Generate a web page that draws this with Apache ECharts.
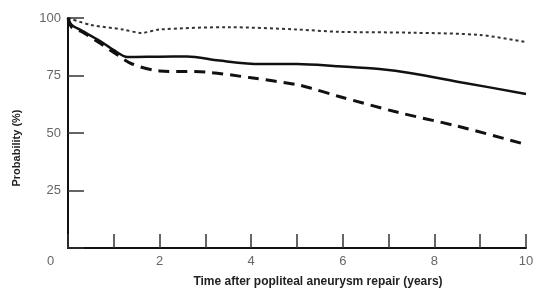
<!DOCTYPE html>
<html>
<head>
<meta charset="utf-8">
<script src="https://cdn.jsdelivr.net/npm/echarts@6/dist/echarts.min.js"></script>
<style>
	html, body { margin: 0; padding: 0; background: #fff; }
	#main { width: 538px; height: 293px; }
</style>
</head>
<body>
<div id="main"></div>
<script>
// time (years) and probability (%)
var solidTime = [0, 0.08, 0.3, 0.7, 1.0, 1.3, 2.0, 2.6, 3.3, 4.2, 5.0, 5.9, 6.8, 7.5, 8.6, 10];
var solidProb = [100, 97, 94.5, 90, 86, 83, 83.2, 83.3, 81.5, 80, 80, 79, 77.8, 76, 72, 67];

var dashTime = [0, 0.08, 0.3, 0.7, 1.0, 1.4, 2.0, 3.0, 4.0, 5.0, 5.3, 5.9, 7.2, 8.5, 10];
var dashProb = [100, 96, 94, 89, 85, 80, 77, 76.5, 74, 71, 69.5, 66, 59, 53, 45];

var dotTime = [0, 0.5, 1.2, 1.6, 2.0, 3.5, 5.0, 5.9, 7.5, 9.0, 10];
var dotProb = [100, 97, 95, 93.5, 95, 96, 95, 94, 93.6, 92.6, 89.5];

var xTicks = [2, 4, 6, 8, 10];
var yTicks = [25, 50, 75, 100];

function pairs(xs, ys) {
	return xs.map(function(x, i) { return [x, ys[i]]; });
}

var myChart = echarts.init(document.getElementById('main'));
var option = {
	animation: false,
	grid: {
		left: 68,
		right: 12,
		top: 18,
		bottom: 44
	},
	xAxis: {
		type: 'value',
		min: 0,
		max: 10,
		interval: 1,
		name: 'Time after popliteal aneurysm repair (years)',
		nameLocation: 'middle',
		nameGap: 28,
		nameTextStyle: {
			fontFamily: 'Liberation Sans',
			fontWeight: 'bold',
			fontSize: 12,
			color: '#222',
			padding: [0, 0, 0, 42]
		},
		axisLine: { lineStyle: { color: '#111', width: 2 } },
		axisTick: { inside: true, length: 14, lineStyle: { color: '#333', width: 1.5 } },
		axisLabel: {
			fontFamily: 'Liberation Sans',
			fontSize: 13,
			color: '#666',
			margin: 7,
			formatter: function(v) {
				return xTicks.indexOf(v) >= 0 ? String(v) : '';
			}
		},
		splitLine: { show: false }
	},
	yAxis: {
		type: 'value',
		min: 0,
		max: 100,
		interval: 25,
		name: 'Probability (%)',
		nameLocation: 'middle',
		nameGap: 46,
		nameTextStyle: {
			fontFamily: 'Liberation Sans',
			fontWeight: 'bold',
			fontSize: 11,
			color: '#222',
			padding: [0, 0, 0, -30]
		},
		axisLine: { lineStyle: { color: '#111', width: 2 } },
		axisTick: { inside: true, length: 16, lineStyle: { color: '#333', width: 1.5 } },
		axisLabel: {
			fontFamily: 'Liberation Sans',
			fontSize: 13,
			color: '#666',
			margin: 7,
			formatter: function(v) {
				return yTicks.indexOf(v) >= 0 ? String(v) : '';
			}
		},
		splitLine: { show: false }
	},
	graphic: [{
		type: 'text',
		left: 47,
		top: 255,
		style: {
			text: '0',
			font: '13px "Liberation Sans"',
			fill: '#666'
		}
	}],
	series: [{
		type: 'line',
		data: pairs(dotTime, dotProb),
		smooth: 0.3,
		symbol: 'none',
		lineStyle: { color: '#333', width: 2, type: [3, 3] }
	}, {
		type: 'line',
		data: pairs(dashTime, dashProb),
		smooth: 0.3,
		symbol: 'none',
		lineStyle: { color: '#111', width: 3, type: [11, 7] }
	}, {
		type: 'line',
		data: pairs(solidTime, solidProb),
		smooth: 0.3,
		symbol: 'none',
		lineStyle: { color: '#111', width: 2.5 }
	}]
};
myChart.setOption(option);
</script>
</body>
</html>
